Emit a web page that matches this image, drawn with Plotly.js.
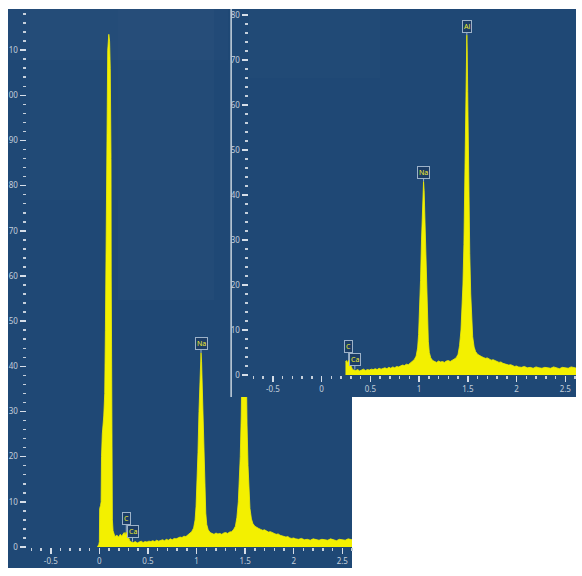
<!DOCTYPE html>
<html>
<head>
<meta charset="utf-8">
<script src="https://cdn.plot.ly/plotly-3.0.1.min.js"></script>
<style>html,body{margin:0;padding:0;background:#fff;}#chart{width:582px;height:576px;}</style>
</head>
<body>
<div id="chart"></div>
<script>
// ---- data (keV, counts) ----
const zeroPeakEnergy = [-0.02, -0.005, 0.0, 0.003, 0.012, 0.018, 0.022, 0.03, 0.045, 0.055, 0.062, 0.068, 0.073, 0.079, 0.086, 0.097, 0.105, 0.112, 0.117, 0.12, 0.122, 0.124, 0.126, 0.129, 0.134, 0.141, 0.15];
const zeroPeakCounts = [0, 0.6, 1.2, 8.5, 9.2, 10, 20, 25, 29, 34, 48, 66, 84, 100, 110, 113.5, 112, 106, 98, 86, 60, 35, 21, 12, 6, 3.6, 2.6];

const spectrumEnergy = [0.16, 0.18, 0.20, 0.215, 0.23, 0.245, 0.255, 0.265, 0.275, 0.285, 0.295, 0.305, 0.315, 0.33, 0.35, 0.37, 0.39, 0.41, 0.43, 0.45, 0.47, 0.49, 0.51, 0.53, 0.55, 0.57, 0.59, 0.61, 0.63, 0.65, 0.67, 0.69, 0.71, 0.73, 0.75, 0.77, 0.79, 0.81, 0.83, 0.85, 0.87, 0.89, 0.91, 0.93, 0.95, 0.97, 0.985, 0.995, 1.005, 1.015, 1.025, 1.033, 1.04, 1.046, 1.052, 1.06, 1.068, 1.076, 1.085, 1.095, 1.105, 1.12, 1.14, 1.16, 1.18, 1.20, 1.22, 1.24, 1.26, 1.28, 1.30, 1.32, 1.34, 1.36, 1.38, 1.40, 1.415, 1.43, 1.44, 1.45, 1.46, 1.468, 1.475, 1.481, 1.486, 1.49, 1.494, 1.499, 1.505, 1.512, 1.52, 1.53, 1.54, 1.55, 1.565, 1.58, 1.60, 1.62, 1.64, 1.66, 1.68, 1.70, 1.72, 1.74, 1.76, 1.78, 1.80, 1.82, 1.84, 1.86, 1.88, 1.90, 1.92, 1.94, 1.96, 1.98, 2.00, 2.02, 2.05, 2.08, 2.11, 2.14, 2.17, 2.20, 2.23, 2.26, 2.29, 2.32, 2.35, 2.38, 2.41, 2.44, 2.47, 2.50, 2.53, 2.56, 2.59, 2.62];
const spectrumCounts = [2.3, 2.6, 2.2, 2.8, 2.4, 2.9, 3.2, 2.6, 3.3, 2.9, 2.2, 1.6, 1.3, 1.1, 1.0, 1.2, 0.9, 1.1, 1.3, 1.0, 1.2, 1.1, 1.3, 1.2, 1.4, 1.2, 1.5, 1.3, 1.4, 1.6, 1.4, 1.7, 1.5, 1.8, 1.6, 1.9, 1.8, 2.0, 2.2, 2.1, 2.4, 2.3, 2.6, 2.9, 3.4, 4.2, 6, 9, 14, 21, 30, 37, 41, 43, 41, 35, 27, 19, 12, 7.5, 5, 3.8, 3.2, 3.0, 2.8, 3.1, 2.9, 3.0, 2.8, 3.1, 3.2, 3.0, 3.3, 3.4, 3.8, 4.6, 6.5, 10, 14, 20, 29, 40, 52, 63, 71, 75.5, 72, 63, 50, 38, 27, 18, 12, 8.5, 6.2, 5.2, 4.6, 4.3, 4.1, 3.9, 3.7, 3.8, 3.5, 3.3, 3.4, 3.1, 3.0, 2.8, 2.9, 2.6, 2.5, 2.4, 2.2, 2.3, 2.0, 1.9, 2.0, 1.8, 1.7, 1.9, 1.6, 1.7, 1.5, 1.8, 1.6, 1.5, 1.7, 1.6, 1.5, 1.8, 1.6, 1.4, 1.7, 1.6, 1.5, 1.8, 1.6, 1.5];
const insetStartEnergy = 0.245;

const peakNames = ['C', 'Ca', 'Na', 'Al'];
const peakEnergies = [0.277, 0.341, 1.046, 1.49];
const peakCounts = [3.3, 1.2, 43, 75.5];
const leftPanelPeaks = ['C', 'Ca', 'Na'];
const insetPanelPeaks = ['C', 'Ca', 'Na', 'Al'];

const xTickValues = [-0.5, 0, 0.5, 1, 1.5, 2, 2.5];
const xTickLabels = ['-0.5', '0', '0.5', '1', '1.5', '2', '2.5'];
const leftYTicks = [0, 10, 20, 30, 40, 50, 60, 70, 80, 90, 100, 110];
const insetYTicks = [0, 10, 20, 30, 40, 50, 60, 70, 80];

// ---- style ----
const W = 582, H = 576;
const px = v => v / W, py = v => 1 - v / H;
const BG = '#1f4875';
const YEL = '#f3f000';
const TICKFONT = {family: 'Noto Sans, Open Sans, sans-serif', size: 8, color: '#c3cfdc'};

const leftX = zeroPeakEnergy.concat(spectrumEnergy);
const leftY = zeroPeakCounts.concat(spectrumCounts);
const insetX = [], insetY = [];
spectrumEnergy.forEach((e, i) => { if (e >= insetStartEnergy) { insetX.push(e); insetY.push(spectrumCounts[i]); } });

const traces = [
  {type: 'scatter', mode: 'lines', x: leftX, y: leftY, xaxis: 'x', yaxis: 'y',
   fill: 'tozeroy', fillcolor: YEL, line: {color: YEL, width: 0.8}, hoverinfo: 'skip'},
  {type: 'scatter', mode: 'lines', x: [], y: [], xaxis: 'x2', yaxis: 'y2', hoverinfo: 'skip'},
  {type: 'scatter', mode: 'lines', x: insetX, y: insetY, xaxis: 'x3', yaxis: 'y3',
   fill: 'tozeroy', fillcolor: YEL, line: {color: YEL, width: 0.8}, hoverinfo: 'skip'}
];

function xAxis(domain, range, anchor) {
  return {domain, range, anchor, tickmode: 'array', tickvals: xTickValues, ticktext: xTickLabels,
    ticks: 'outside', ticklen: 6, tickwidth: 1.5, tickcolor: '#d6dee8', tickfont: TICKFONT,
    minor: {tickmode: 'linear', tick0: 0, dtick: 0.1, ticks: 'outside', ticklen: 3, tickwidth: 1.5, tickcolor: '#c6d0dc'},
    showgrid: false, zeroline: false, showline: false, fixedrange: true};
}
function yAxis(domain, range, anchor, vals) {
  return {domain, range, anchor, tickmode: 'array', tickvals: vals,
    ticks: 'outside', ticklen: 6, tickwidth: 1.5, tickcolor: '#d6dee8', tickfont: TICKFONT,
    minor: {tickmode: 'linear', tick0: 0, dtick: 2, ticks: 'outside', ticklen: 3, tickwidth: 1.5, tickcolor: '#c6d0dc'},
    showgrid: false, zeroline: false, showline: false, fixedrange: true};
}

function labelAnn(name, xref, yref) {
  const i = peakNames.indexOf(name);
  const ay = name === 'C' ? -14 : (name === 'Ca' ? -10 : -9);
  return {x: peakEnergies[i], y: peakCounts[i], xref, yref, text: name,
    showarrow: true, arrowhead: 0, arrowwidth: 1, arrowcolor: '#9db2c8', ax: 0, ay, standoff: 0,
    font: {family: 'Noto Sans, sans-serif', size: 7, color: '#f0ee30'},
    bgcolor: '#1c3d66', bordercolor: '#9db2c8', borderwidth: 1, borderpad: 1};
}

const annotations = leftPanelPeaks.map(n => labelAnn(n, 'x', 'y'))
  .concat(insetPanelPeaks.map(n => labelAnn(n, 'x3', 'y3')));

const shapes = [
  // left panel background (incl. label area)
  {type: 'rect', xref: 'paper', yref: 'paper', x0: px(8), x1: px(352), y0: py(568), y1: py(9),
   fillcolor: BG, line: {width: 0}, layer: 'below'},
  {type: 'rect', xref: 'paper', yref: 'paper', x0: px(8), x1: px(352), y0: py(60), y1: py(9),
   fillcolor: 'rgba(255,255,255,0.015)', line: {width: 0}, layer: 'below'},
  {type: 'rect', xref: 'paper', yref: 'paper', x0: px(118), x1: px(214), y0: py(300), y1: py(9),
   fillcolor: 'rgba(255,255,255,0.018)', line: {width: 0}, layer: 'below'},
  {type: 'rect', xref: 'paper', yref: 'paper', x0: px(30), x1: px(118), y0: py(200), y1: py(9),
   fillcolor: 'rgba(255,255,255,0.01)', line: {width: 0}, layer: 'below'},
  // inset left border line
  {type: 'line', xref: 'x2', yref: 'y2', x0: 0.009, x1: 0.009, y0: 0, y1: 1,
   line: {color: '#c9d3de', width: 1.5}, layer: 'below'},
  // inset subtle lighter top
  {type: 'rect', xref: 'x3', yref: 'y3', x0: -0.75, x1: 0.6, y0: 66, y1: 81.3,
   fillcolor: 'rgba(255,255,255,0.012)', line: {width: 0}, layer: 'below'},
  // crop at left edge
  {type: 'rect', xref: 'paper', yref: 'paper', x0: 0, x1: px(8), y0: 0, y1: 1,
   fillcolor: '#ffffff', line: {width: 0}, layer: 'above'}
];

const layout = {
  width: W, height: H, margin: {l: 0, r: 0, t: 0, b: 0, pad: 0},
  paper_bgcolor: '#ffffff', plot_bgcolor: BG, showlegend: false,
  xaxis: xAxis([px(26.5), px(352)], [-0.75, 2.6], 'y'),
  yaxis: yAxis([py(547), py(14)], [0, 118], 'x', leftYTicks),
  xaxis2: {domain: [px(228), px(576)], range: [0, 1], anchor: 'y2', visible: false, fixedrange: true},
  yaxis2: {domain: [py(397), py(9)], range: [0, 1], anchor: 'x2', visible: false, fixedrange: true},
  xaxis3: xAxis([px(248.5), px(576)], [-0.75, 2.61], 'y3'),
  yaxis3: yAxis([py(375), py(9)], [0, 81.3], 'x3', insetYTicks),
  shapes, annotations
};

Plotly.newPlot('chart', traces, layout, {staticPlot: true, displayModeBar: false});
</script>
</body>
</html>
